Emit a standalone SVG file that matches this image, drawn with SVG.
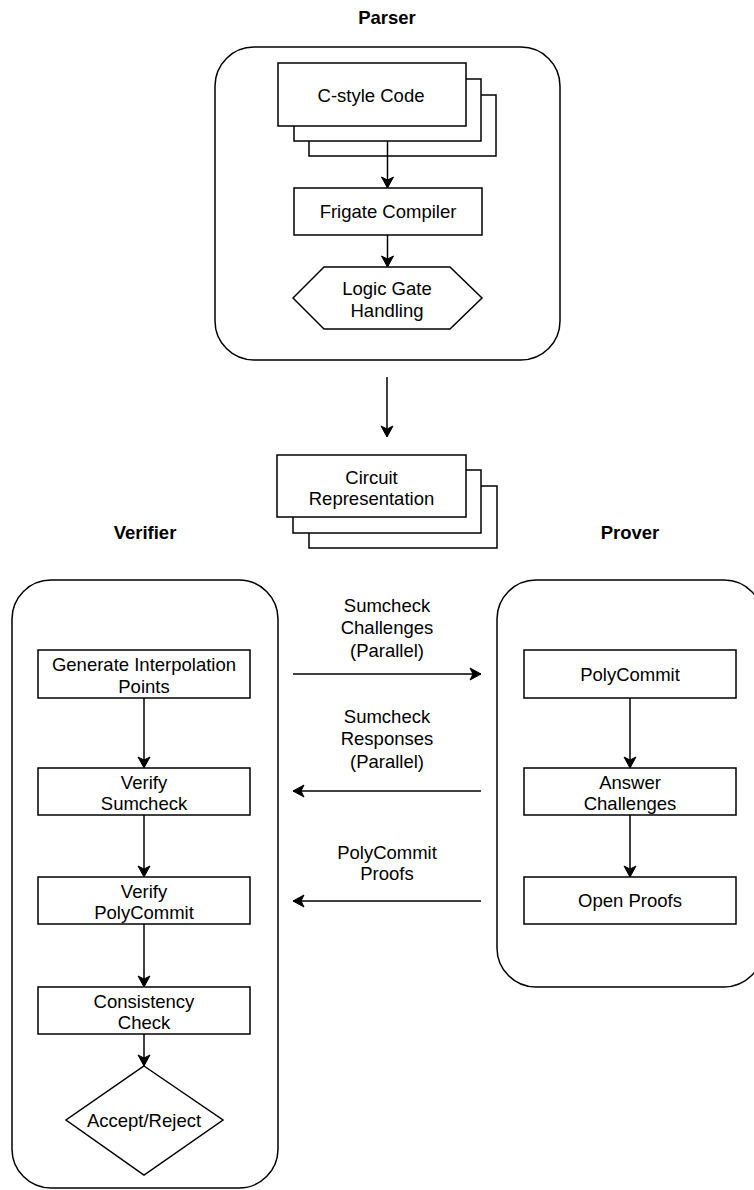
<svg xmlns="http://www.w3.org/2000/svg" width="754" height="1190" viewBox="0 0 754 1190">
<defs>
<style>
.c{fill:#fff;stroke:#000;stroke-width:1.5}
.n{fill:#fff;stroke:#000;stroke-width:1.5}
.t{font-family:"Liberation Sans",Arial,sans-serif;font-size:18.5px;fill:#000;text-anchor:middle}
.b{font-weight:bold}
.e{fill:none;stroke:#000;stroke-width:1.5}
</style>
<marker id="ah" viewBox="-12 -7 13 14" refX="0" refY="0" markerWidth="13" markerHeight="14" markerUnits="userSpaceOnUse" orient="auto">
<path d="M0,0 L-11,-6 L-8,0 L-11,6 Z" fill="#000" stroke="#000" stroke-width="1"/>
</marker>
</defs>
<rect width="754" height="1190" fill="#fff"/>

<g id="parser">
<text class="t b" x="387" y="23.5">Parser</text>
<rect class="c" x="215" y="47" width="345" height="313" rx="39" ry="39"/>
</g>
<g id="verifier">
<text class="t b" x="145" y="539">Verifier</text>
<rect class="c" x="12" y="580" width="266" height="608" rx="39" ry="39"/>
</g>
<g id="prover">
<text class="t b" x="630" y="539">Prover</text>
<rect class="c" x="497" y="580" width="266" height="407" rx="39" ry="39"/>
</g>

<g id="c-style-code">
<rect class="n" x="309" y="95" width="187" height="61"/>
<rect class="n" x="294" y="79" width="187" height="62"/>
<rect class="n" x="278" y="63" width="188" height="63"/>
<text class="t" x="371" y="101.5">C-style Code</text>
</g>
<g id="frigate-compiler">
<rect class="n" x="294" y="188" width="188" height="47"/>
<text class="t" x="388" y="217.5">Frigate Compiler</text>
</g>
<g id="logic-gate">
<polygon class="n" points="293,298 324,267 450,267 482,298 450,329 324,329"/>
<text class="t" x="387" y="294.5">Logic Gate</text>
<text class="t" x="387" y="316.5">Handling</text>
</g>
<g id="circuit-representation">
<rect class="n" x="309" y="486" width="188" height="62"/>
<rect class="n" x="293" y="470" width="188" height="63"/>
<rect class="n" x="277" y="455" width="189" height="62"/>
<text class="t" x="371.5" y="483.5">Circuit</text>
<text class="t" x="371.5" y="504.5">Representation</text>
</g>

<g id="generate-points">
<rect class="n" x="38" y="650" width="212" height="48"/>
<text class="t" x="144" y="670.5">Generate Interpolation</text>
<text class="t" x="144" y="693">Points</text>
</g>
<g id="verify-sumcheck">
<rect class="n" x="38" y="768" width="212" height="47"/>
<text class="t" x="144" y="789">Verify</text>
<text class="t" x="144" y="810">Sumcheck</text>
</g>
<g id="verify-polycommit">
<rect class="n" x="38" y="877" width="212" height="47"/>
<text class="t" x="144" y="898">Verify</text>
<text class="t" x="144" y="919">PolyCommit</text>
</g>
<g id="consistency-check">
<rect class="n" x="38" y="987" width="212" height="47"/>
<text class="t" x="144" y="1008">Consistency</text>
<text class="t" x="144" y="1029">Check</text>
</g>
<g id="accept-reject">
<polygon class="n" points="144,1066 223,1120 144,1175 66,1120"/>
<text class="t" x="144" y="1126.5">Accept/Reject</text>
</g>

<g id="polycommit">
<rect class="n" x="524" y="650" width="212" height="48"/>
<text class="t" x="630" y="680.5">PolyCommit</text>
</g>
<g id="answer-challenges">
<rect class="n" x="524" y="768" width="212" height="47"/>
<text class="t" x="630" y="788.5">Answer</text>
<text class="t" x="630" y="809.5">Challenges</text>
</g>
<g id="open-proofs">
<rect class="n" x="524" y="877" width="212" height="47"/>
<text class="t" x="630" y="907">Open Proofs</text>
</g>

<g id="connectors">
<line class="e" x1="387.5" y1="141" x2="387.5" y2="188" marker-end="url(#ah)"/>
<line class="e" x1="387.5" y1="235" x2="387.5" y2="267" marker-end="url(#ah)"/>
<line class="e" x1="387" y1="377" x2="387" y2="437" marker-end="url(#ah)"/>
<line class="e" x1="144" y1="698" x2="144" y2="768" marker-end="url(#ah)"/>
<line class="e" x1="144" y1="815" x2="144" y2="877" marker-end="url(#ah)"/>
<line class="e" x1="144" y1="924" x2="144" y2="987" marker-end="url(#ah)"/>
<line class="e" x1="144" y1="1034" x2="144" y2="1066" marker-end="url(#ah)"/>
<line class="e" x1="630" y1="698" x2="630" y2="768" marker-end="url(#ah)"/>
<line class="e" x1="630" y1="815" x2="630" y2="877" marker-end="url(#ah)"/>
<line class="e" x1="293" y1="674" x2="481" y2="674" marker-end="url(#ah)"/>
<line class="e" x1="481" y1="791" x2="293" y2="791" marker-end="url(#ah)"/>
<line class="e" x1="481" y1="901" x2="293" y2="901" marker-end="url(#ah)"/>
<text class="t" x="387" y="611.5">Sumcheck</text>
<text class="t" x="387" y="634">Challenges</text>
<text class="t" x="387" y="656.5">(Parallel)</text>
<text class="t" x="387" y="722.5">Sumcheck</text>
<text class="t" x="387" y="745">Responses</text>
<text class="t" x="387" y="767.5">(Parallel)</text>
<text class="t" x="387" y="858.5">PolyCommit</text>
<text class="t" x="387" y="880">Proofs</text>
</g>
</svg>
